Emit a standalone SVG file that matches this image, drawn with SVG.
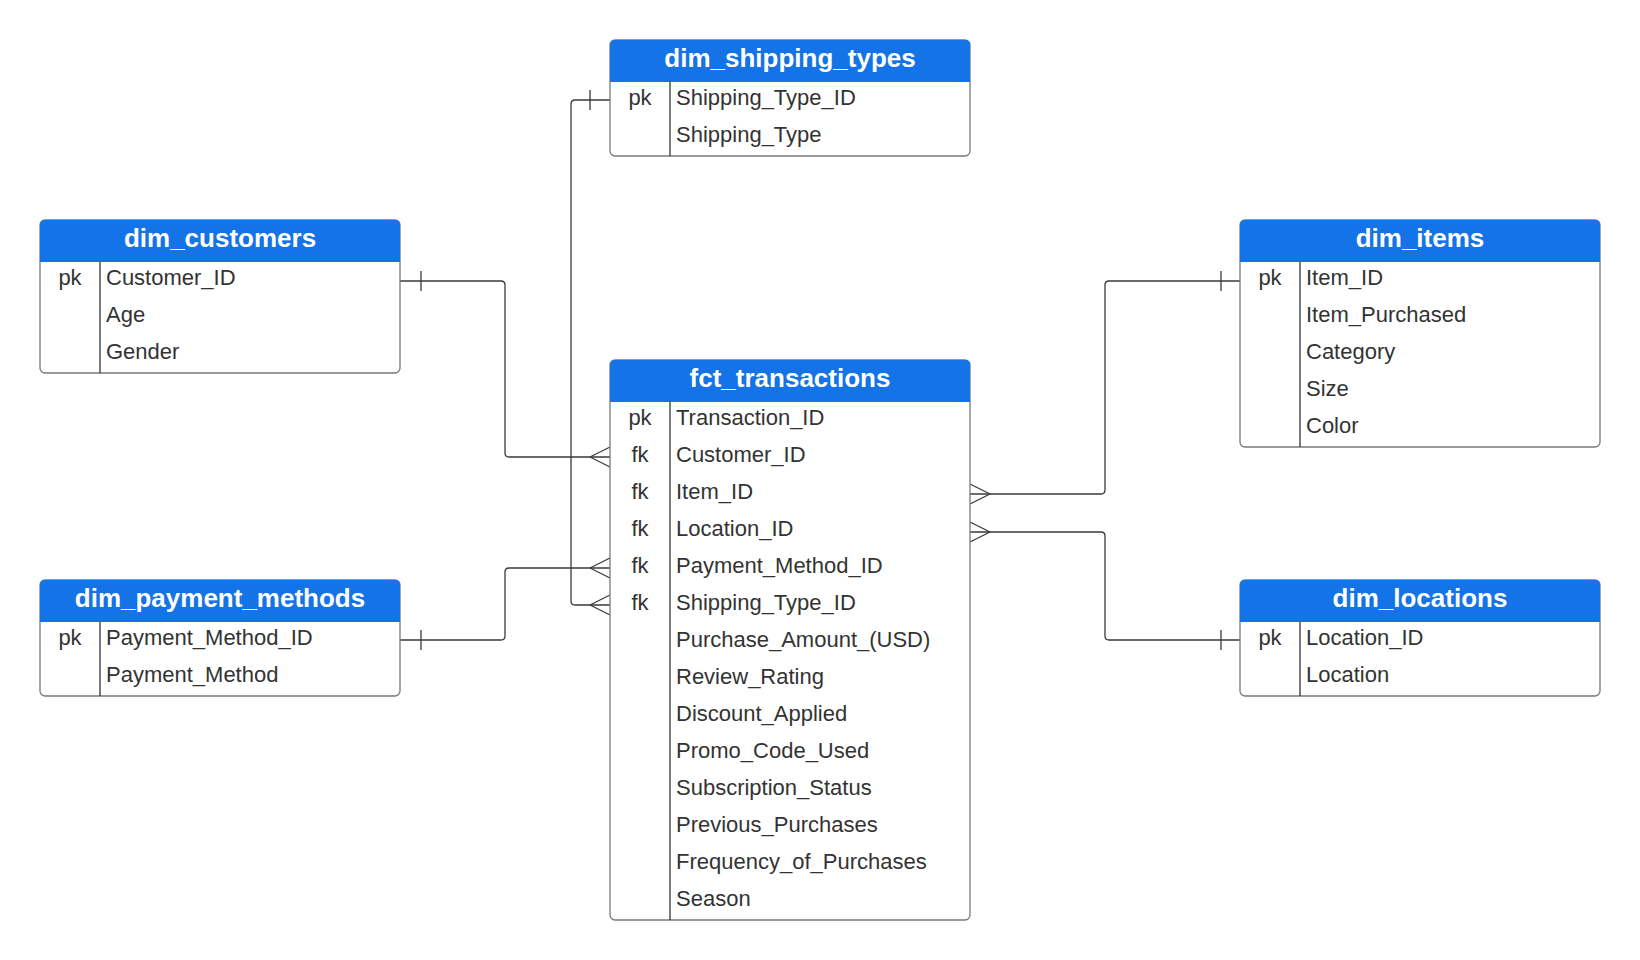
<svg xmlns="http://www.w3.org/2000/svg" width="1640" height="960" viewBox="0 0 1640 960">
<style>
.box{fill:#ffffff;stroke:#7a7a7a;stroke-width:1.3}
.hdr{fill:#1473e6}
.div{stroke:#333333;stroke-width:1.3}
.title{font-family:"Liberation Sans",Arial,sans-serif;font-weight:bold;font-size:26px;fill:#ffffff;text-anchor:middle}
.key{font-family:"Liberation Sans",Arial,sans-serif;font-size:22px;fill:#333333;text-anchor:middle}
.fld{font-family:"Liberation Sans",Arial,sans-serif;font-size:22px;fill:#333333}
.conn{fill:none;stroke:#3a3a3a;stroke-width:1.3}
</style>
<rect width="1640" height="960" fill="#ffffff"/>

<g id="connectors">
  <!-- shipping types -->
  <path class="conn" d="M610,100 H575 Q571,100 571,104 V601 Q571,605 575,605 H610"/>
  <path class="conn" d="M590,90 V110 M590,605 L610,595 M590,605 L610,615"/>
  <!-- customers -->
  <path class="conn" d="M400,281 H501 Q505,281 505,285 V453 Q505,457 509,457 H610"/>
  <path class="conn" d="M421,271 V291 M590,457 L610,447 M590,457 L610,467"/>
  <!-- payment methods -->
  <path class="conn" d="M400,640 H501 Q505,640 505,636 V572 Q505,568 509,568 H610"/>
  <path class="conn" d="M421,630 V650 M590,568 L610,558 M590,568 L610,578"/>
  <!-- items -->
  <path class="conn" d="M1240,281 H1109 Q1105,281 1105,285 V490 Q1105,494 1101,494 H970"/>
  <path class="conn" d="M1221,271 V291 M990,494 L970,484 M990,494 L970,504"/>
  <!-- locations -->
  <path class="conn" d="M1240,640 H1109 Q1105,640 1105,636 V536 Q1105,532 1101,532 H970"/>
  <path class="conn" d="M1221,630 V650 M990,532 L970,522 M990,532 L970,542"/>
</g>

<g id="dim_shipping_types">
  <rect class="box" x="610" y="40" width="360" height="116" rx="5"/>
  <path class="hdr" d="M610,82 V45 Q610,40 615,40 H965 Q970,40 970,45 V82 Z"/>
  <line class="div" x1="670" y1="82" x2="670" y2="156"/>
  <text class="title" x="790" y="67">dim_shipping_types</text>
  <text class="key" x="640" y="105">pk</text>
  <text class="fld" x="676" y="105">Shipping_Type_ID</text>
  <text class="fld" x="676" y="142">Shipping_Type</text>
</g>

<g id="dim_customers">
  <rect class="box" x="40" y="220" width="360" height="153" rx="5"/>
  <path class="hdr" d="M40,262 V225 Q40,220 45,220 H395 Q400,220 400,225 V262 Z"/>
  <line class="div" x1="100" y1="262" x2="100" y2="373"/>
  <text class="title" x="220" y="247">dim_customers</text>
  <text class="key" x="70" y="285">pk</text>
  <text class="fld" x="106" y="285">Customer_ID</text>
  <text class="fld" x="106" y="322">Age</text>
  <text class="fld" x="106" y="359">Gender</text>
</g>

<g id="fct_transactions">
  <rect class="box" x="610" y="360" width="360" height="560" rx="5"/>
  <path class="hdr" d="M610,402 V365 Q610,360 615,360 H965 Q970,360 970,365 V402 Z"/>
  <line class="div" x1="670" y1="402" x2="670" y2="920"/>
  <text class="title" x="790" y="387">fct_transactions</text>
  <text class="key" x="640" y="425">pk</text>
  <text class="key" x="640" y="462">fk</text>
  <text class="key" x="640" y="499">fk</text>
  <text class="key" x="640" y="536">fk</text>
  <text class="key" x="640" y="573">fk</text>
  <text class="key" x="640" y="610">fk</text>
  <text class="fld" x="676" y="425">Transaction_ID</text>
  <text class="fld" x="676" y="462">Customer_ID</text>
  <text class="fld" x="676" y="499">Item_ID</text>
  <text class="fld" x="676" y="536">Location_ID</text>
  <text class="fld" x="676" y="573">Payment_Method_ID</text>
  <text class="fld" x="676" y="610">Shipping_Type_ID</text>
  <text class="fld" x="676" y="647">Purchase_Amount_(USD)</text>
  <text class="fld" x="676" y="684">Review_Rating</text>
  <text class="fld" x="676" y="721">Discount_Applied</text>
  <text class="fld" x="676" y="758">Promo_Code_Used</text>
  <text class="fld" x="676" y="795">Subscription_Status</text>
  <text class="fld" x="676" y="832">Previous_Purchases</text>
  <text class="fld" x="676" y="869">Frequency_of_Purchases</text>
  <text class="fld" x="676" y="906">Season</text>
</g>

<g id="dim_items">
  <rect class="box" x="1240" y="220" width="360" height="227" rx="5"/>
  <path class="hdr" d="M1240,262 V225 Q1240,220 1245,220 H1595 Q1600,220 1600,225 V262 Z"/>
  <line class="div" x1="1300" y1="262" x2="1300" y2="447"/>
  <text class="title" x="1420" y="247">dim_items</text>
  <text class="key" x="1270" y="285">pk</text>
  <text class="fld" x="1306" y="285">Item_ID</text>
  <text class="fld" x="1306" y="322">Item_Purchased</text>
  <text class="fld" x="1306" y="359">Category</text>
  <text class="fld" x="1306" y="396">Size</text>
  <text class="fld" x="1306" y="433">Color</text>
</g>

<g id="dim_payment_methods">
  <rect class="box" x="40" y="580" width="360" height="116" rx="5"/>
  <path class="hdr" d="M40,622 V585 Q40,580 45,580 H395 Q400,580 400,585 V622 Z"/>
  <line class="div" x1="100" y1="622" x2="100" y2="696"/>
  <text class="title" x="220" y="607">dim_payment_methods</text>
  <text class="key" x="70" y="645">pk</text>
  <text class="fld" x="106" y="645">Payment_Method_ID</text>
  <text class="fld" x="106" y="682">Payment_Method</text>
</g>

<g id="dim_locations">
  <rect class="box" x="1240" y="580" width="360" height="116" rx="5"/>
  <path class="hdr" d="M1240,622 V585 Q1240,580 1245,580 H1595 Q1600,580 1600,585 V622 Z"/>
  <line class="div" x1="1300" y1="622" x2="1300" y2="696"/>
  <text class="title" x="1420" y="607">dim_locations</text>
  <text class="key" x="1270" y="645">pk</text>
  <text class="fld" x="1306" y="645">Location_ID</text>
  <text class="fld" x="1306" y="682">Location</text>
</g>
</svg>
